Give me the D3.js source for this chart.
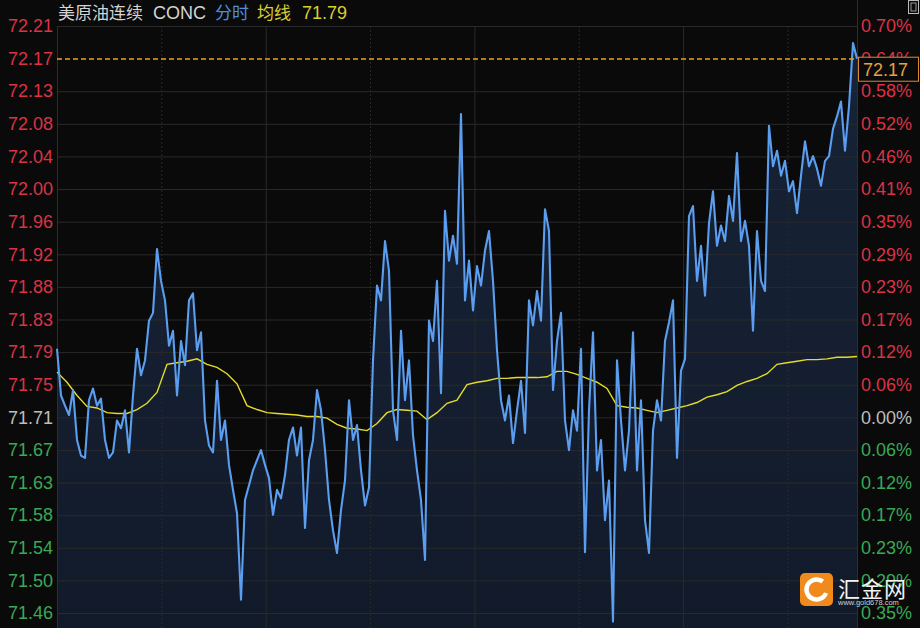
<!DOCTYPE html>
<html><head><meta charset="utf-8">
<script src="https://cdn.jsdelivr.net/npm/d3@7"></script>
<style>html,body{margin:0;padding:0;background:#0a0a0a;overflow:hidden}</style>
</head><body><svg id="c" width="920" height="628"></svg>
<script>
// ---- data ----
const titleName = "美原油连续";
const titleCode = "CONC";
const titleMode = "分时";
const titleAvgLabel = "均线";
const avgLastText = "71.79";
const prevClose = 71.71;
const lastPrice = 72.17;
const lastPriceText = "72.17";
const sessionMinutes = 1380;
const gridMinutes = [180, 360, 540, 720, 900, 1080, 1260];

const priceTickLabels = ["72.21","72.17","72.13","72.08","72.04","72.00","71.96","71.92","71.88","71.83","71.79","71.75","71.71","71.67","71.63","71.58","71.54","71.50","71.46"];
const pctTickLabels = ["0.70%","0.64%","0.58%","0.52%","0.46%","0.41%","0.35%","0.29%","0.23%","0.17%","0.12%","0.06%","0.00%","0.06%","0.12%","0.17%","0.23%","0.29%","0.35%"];
const pctTickSteps = [12,11,10,9,8,7,6,5,4,3,2,1,0,-1,-2,-3,-4,-5,-6];
const pctStep = 0.7 / 12;

const prices = [
71.798,71.738,71.725,71.713,71.745,71.681,71.661,71.658,71.732,71.747,
71.725,71.734,71.681,71.658,71.665,71.706,71.696,71.719,71.665,71.738,
71.798,71.764,71.783,71.834,71.844,71.926,71.885,71.860,71.802,71.821,
71.738,71.808,71.777,71.860,71.869,71.796,71.819,71.706,71.674,71.665,
71.757,71.681,71.706,71.649,71.617,71.587,71.476,71.604,71.623,71.642,
71.655,71.668,71.649,71.632,71.585,71.617,71.606,71.636,71.681,71.697,
71.661,71.697,71.568,71.655,71.681,71.745,71.719,71.668,71.604,71.565,
71.536,71.591,71.629,71.732,71.681,71.700,71.642,71.597,71.620,71.783,
71.879,71.860,71.936,71.898,71.719,71.681,71.821,71.732,71.783,71.687,
71.642,71.604,71.527,71.834,71.808,71.885,71.741,71.975,71.911,71.943,
71.907,72.099,71.860,71.911,71.847,71.904,71.879,71.924,71.949,71.885,
71.796,71.732,71.706,71.738,71.677,71.719,71.757,71.690,71.860,71.828,
71.872,71.834,71.977,71.949,71.745,71.808,71.844,71.706,71.668,71.719,
71.693,71.798,71.537,71.719,71.819,71.642,71.681,71.578,71.629,71.448,
71.783,71.706,71.642,71.693,71.819,71.642,71.732,71.578,71.536,71.693,
71.732,71.706,71.808,71.832,71.860,71.658,71.770,71.785,71.968,71.981,
71.885,71.930,71.866,71.959,72.000,71.930,71.956,71.936,71.994,71.962,
72.049,71.936,71.962,71.930,71.821,71.949,71.885,71.872,72.084,72.032,
72.052,72.020,72.039,72.000,72.013,71.972,72.020,72.064,72.032,72.045,
72.029,72.007,72.039,72.045,72.080,72.096,72.115,72.052,72.109,72.190,
72.170
];

const avgPrices = [
71.768,71.755,71.738,71.724,71.722,71.716,71.715,71.715,71.720,71.728,
71.742,71.778,71.780,71.782,71.785,71.778,71.774,71.766,71.753,71.725,
71.720,71.716,71.715,71.714,71.713,71.711,71.711,71.709,71.701,71.696,
71.695,71.693,71.702,71.716,71.720,71.719,71.718,71.707,71.716,71.728,
71.732,71.752,71.755,71.757,71.760,71.760,71.761,71.761,71.761,71.762,
71.769,71.769,71.765,71.760,71.755,71.747,71.725,71.723,71.722,71.719,
71.716,71.719,71.722,71.725,71.729,71.736,71.739,71.743,71.751,71.756,
71.760,71.766,71.778,71.780,71.782,71.784,71.784,71.785,71.787,71.787,
71.788
];

// ---- layout ----
const W = 920, H = 628;
const L = 57, R = 857, T = 26, B = 613, BOTTOM = 628;
const RED = "#dc3246", GREEN = "#3aa856", GREY = "#bdbdbd";
const FONT = "'Liberation Sans', Arial, sans-serif";
const CJK = "'Noto Sans CJK SC', 'Liberation Sans', sans-serif";

const svg = d3.select("#c");
svg.append("rect").attr("width", W).attr("height", H).attr("fill", "#0a0a0a");

const x = d3.scaleLinear().domain([0, sessionMinutes]).range([L, R]);
const y = d3.scaleLinear()
  .domain([prevClose * (1 - 6 * pctStep / 100), prevClose * (1 + 12 * pctStep / 100)])
  .range([B, T]);

const tickPrices = pctTickSteps.map(s => prevClose * (1 + s * pctStep / 100));
const priceData = prices.map((p, i) => ({ t: i * sessionMinutes / (prices.length - 1), p }));
const avgData = avgPrices.map((p, i) => ({ t: i * sessionMinutes / (avgPrices.length - 1), p }));

// gradient
const defs = svg.append("defs");
const grad = defs.append("linearGradient").attr("id", "ag").attr("x1", 0).attr("y1", 0).attr("x2", 0).attr("y2", 1);
grad.append("stop").attr("offset", "0%").attr("stop-color", "#1a2a44").attr("stop-opacity", 0.75);
grad.append("stop").attr("offset", "100%").attr("stop-color", "#121b2b").attr("stop-opacity", 0.95);

// area
svg.append("path").datum(priceData)
  .attr("d", d3.area().x(d => x(d.t)).y0(BOTTOM).y1(d => y(d.p)))
  .attr("fill", "url(#ag)");

// horizontal grid (skip the last-price level, which gets the dashed line)
const hGrid = svg.append("g").attr("transform", `translate(${L},0)`)
  .call(d3.axisLeft(y).tickValues(tickPrices.filter((d, i) => i !== 1)).tickSize(-(R - L)).tickFormat(""));
hGrid.select(".domain").remove();
hGrid.selectAll("line").attr("stroke", "#2a2a2a").attr("stroke-width", 1);

// vertical grid
const vGrid = svg.append("g").attr("transform", `translate(0,${BOTTOM})`)
  .call(d3.axisBottom(x).tickValues(gridMinutes).tickSize(-(BOTTOM - T)).tickFormat(""));
vGrid.select(".domain").remove();
vGrid.selectAll("line").attr("stroke", "#2a2a2a").attr("stroke-width", 1)
  .attr("stroke-dasharray", (d, i) => i % 2 === 0 ? "2,2" : null);

// borders
svg.append("line").attr("x1", L + 0.5).attr("x2", L + 0.5).attr("y1", T).attr("y2", BOTTOM).attr("stroke", "#2e2e2e");
svg.append("line").attr("x1", R + 0.5).attr("x2", R + 0.5).attr("y1", 0).attr("y2", BOTTOM).attr("stroke", "#2e2e2e");

// avg line
svg.append("path").datum(avgData)
  .attr("d", d3.line().x(d => x(d.t)).y(d => y(d.p)))
  .attr("fill", "none").attr("stroke", "#e6dc28").attr("stroke-width", 1.4);

// price line
svg.append("path").datum(priceData)
  .attr("d", d3.line().x(d => x(d.t)).y(d => y(d.p)))
  .attr("fill", "none").attr("stroke", "#5b9ef0").attr("stroke-width", 2.1).attr("stroke-linejoin", "round");

// last price dashed line
const lyy = Math.round(y(lastPrice));
svg.append("line").attr("x1", L).attr("x2", R).attr("y1", lyy).attr("y2", lyy)
  .attr("stroke", "#f39a2c").attr("stroke-width", 1.6).attr("stroke-dasharray", "5,3");

const colorFor = i => pctTickSteps[i] > 0 ? RED : (pctTickSteps[i] === 0 ? GREY : GREEN);

// left axis
const la = svg.append("g").attr("transform", `translate(53,0)`)
  .call(d3.axisLeft(y).tickValues(tickPrices).tickSize(0).tickPadding(0).tickFormat((d, i) => priceTickLabels[i]));
la.select(".domain").remove();
la.selectAll("text").attr("font-family", FONT).attr("font-size", 18).attr("fill", (d, i) => colorFor(i));

// right axis
const ra = svg.append("g").attr("transform", `translate(861,0)`)
  .call(d3.axisRight(y).tickValues(tickPrices).tickSize(0).tickPadding(0).tickFormat((d, i) => pctTickLabels[i]));
ra.select(".domain").remove();
ra.selectAll("text").attr("font-family", FONT).attr("font-size", 18).attr("fill", (d, i) => colorFor(i));

// last price box
const ly = y(lastPrice);
svg.append("rect").attr("x", 858.5).attr("y", ly - 1.5).attr("width", 60).attr("height", 24)
  .attr("fill", "#0a0a0a").attr("stroke", "#d98a32").attr("stroke-width", 1);
svg.append("text").attr("x", 863).attr("y", ly + 17).attr("font-family", FONT).attr("font-size", 18)
  .attr("fill", "#e8a040").text(lastPriceText);

// header
const hy = 19;
svg.append("text").attr("x", 58).attr("y", hy).attr("font-family", CJK).attr("font-size", 17).attr("fill", "#d4d4d4").text(titleName);
svg.append("text").attr("x", 153).attr("y", hy).attr("font-family", FONT).attr("font-size", 18).attr("fill", "#d4d4d4").text(titleCode);
svg.append("text").attr("x", 215).attr("y", hy).attr("font-family", CJK).attr("font-size", 17).attr("fill", "#4a8fe0").text(titleMode);
svg.append("text").attr("x", 257).attr("y", hy).attr("font-family", CJK).attr("font-size", 17).attr("fill", "#d9cf2e").text(titleAvgLabel);
svg.append("text").attr("x", 302).attr("y", hy).attr("font-family", FONT).attr("font-size", 18).attr("fill", "#d9cf2e").text(avgLastText);

// top-right icon
svg.append("rect").attr("x", 908.5).attr("y", 0.5).attr("width", 10).attr("height", 13).attr("fill", "none").attr("stroke", "#bbbbbb").attr("stroke-width", 1);
svg.append("rect").attr("x", 911).attr("y", 3).attr("width", 5).attr("height", 8).attr("fill", "none").attr("stroke", "#999").attr("stroke-width", 1);

// watermark
const wm = svg.append("g").attr("transform", "translate(800,573)");
wm.append("rect").attr("width", 33).attr("height", 33).attr("rx", 5).attr("fill", "#f08a1c");
wm.append("circle").attr("cx", 16.5).attr("cy", 16.5).attr("r", 10).attr("fill", "none").attr("stroke", "#fff").attr("stroke-width", 4.5)
  .attr("stroke-dasharray", "50,20").attr("transform", "rotate(20,16.5,16.5)");
wm.append("circle").attr("cx", 19).attr("cy", 18).attr("r", 5).attr("fill", "#f08a1c");
svg.append("text").attr("x", 838).attr("y", 597).attr("font-family", CJK).attr("font-size", 22)
  .attr("fill", "#f2f2f2").attr("letter-spacing", 1).text("汇金网");
svg.append("text").attr("x", 838).attr("y", 605).attr("font-family", FONT).attr("font-size", 7.5)
  .attr("fill", "#d0d0d0").text("www.gold678.com");
</script></body></html>
